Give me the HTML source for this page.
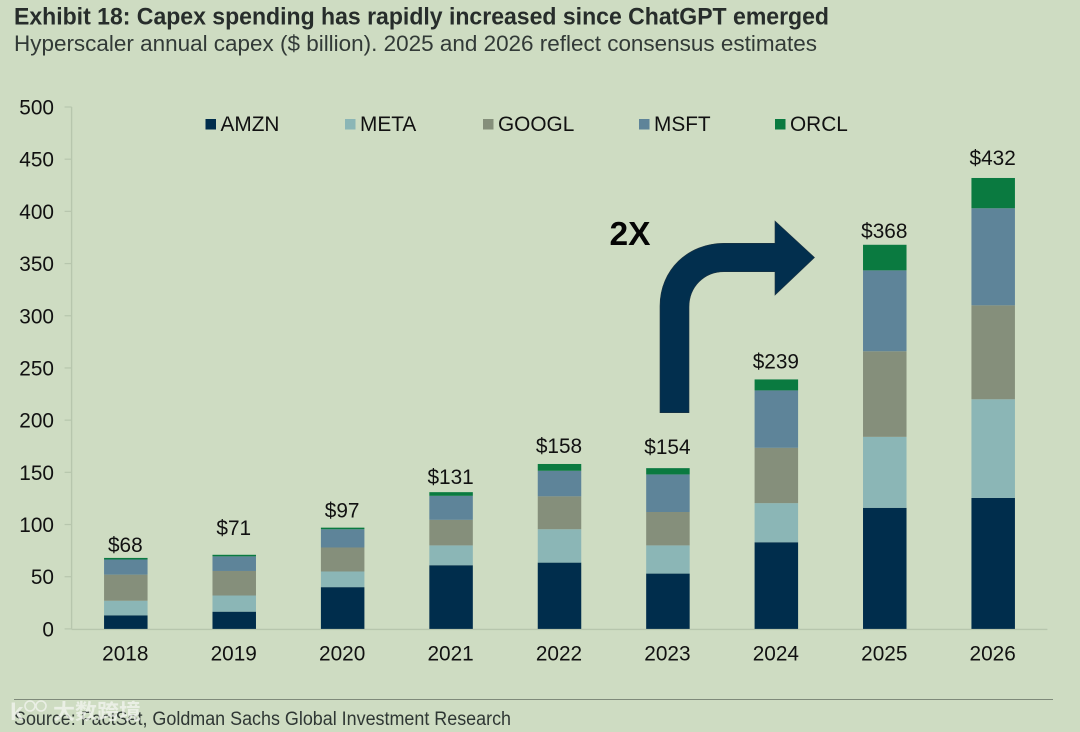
<!DOCTYPE html>
<html lang="en">
<head>
<meta charset="utf-8">
<title>Exhibit 18: Capex spending</title>
<style>
  html, body { margin: 0; padding: 0; background: #cedcc2; }
  svg { display: block; font-family: "Liberation Sans", "Noto Sans CJK SC", sans-serif; }
</style>
</head>
<body>
<svg id="chart" xmlns="http://www.w3.org/2000/svg" width="1080" height="732" viewBox="0 0 1080 732">
  <rect x="0" y="0" width="1080" height="732" fill="#cedcc2"/>
  <text x="14" y="24.5" font-size="24" font-weight="700" fill="#272d2b" textLength="815" lengthAdjust="spacingAndGlyphs">Exhibit 18: Capex spending has rapidly increased since ChatGPT emerged</text>
  <text x="14" y="51" font-size="22.5" fill="#323a37" textLength="803" lengthAdjust="spacingAndGlyphs">Hyperscaler annual capex ($ billion). 2025 and 2026 reflect consensus estimates</text>
  <g id="axes"></g>
  <g id="bars"></g>
  <g id="labels"></g>
  <g id="legend"></g>
  <text x="609.5" y="245" font-size="33.5" font-weight="700" fill="#050505">2X</text>
  <path d="M660 412.7 L660 306 C660 270 688 243.3 724 243.3 L775 243.3 L775 221 L814.5 257.5 L775 295 L775 271.7 L724 271.7 C704 271.7 689 287 689 307 L689 412.7 Z" fill="#022f4e" stroke="#1d3340" stroke-width="0.6"/>
  <line x1="14" y1="699.5" x2="1053" y2="699.5" stroke="#7f8a7a" stroke-width="1"/>
  <text x="14" y="725" font-size="19" fill="#2f3734" textLength="497" lengthAdjust="spacingAndGlyphs">Source: FactSet, Goldman Sachs Global Investment Research</text>
  <g opacity="0.8">
    <text x="10" y="720" font-size="24" font-weight="700" fill="#f1f4ee">k</text>
    <circle cx="30" cy="706" r="5" fill="none" stroke="#f1f4ee" stroke-width="1.6"/>
    <circle cx="41" cy="706" r="5" fill="none" stroke="#f1f4ee" stroke-width="1.6"/>
    <text x="53" y="719" font-size="21" font-weight="700" fill="#f1f4ee" textLength="88" lengthAdjust="spacingAndGlyphs">大数跨境</text>
  </g>
</svg>
<script>
const categories = ['2018', '2019', '2020', '2021', '2022', '2023', '2024', '2025', '2026'];
const seriesNames = ['AMZN', 'META', 'GOOGL', 'MSFT', 'ORCL'];
const amzn = [13, 16.5, 40, 61, 63.5, 53, 83, 116, 125.5];
const meta = [14, 15.5, 15, 19, 32, 27, 37.5, 68, 94.5];
const googl = [25, 23.5, 23, 24.5, 31.5, 32, 53, 82, 90];
const msft = [14.5, 14, 17.5, 23, 24.5, 36, 55, 77.5, 93];
const orcl = [1.5, 1.5, 1.5, 3.5, 6.5, 6, 10.5, 24.5, 29];
const totalLabels = ['$68', '$71', '$97', '$131', '$158', '$154', '$239', '$368', '$432'];
const yTicks = [0, 50, 100, 150, 200, 250, 300, 350, 400, 450, 500];

const seriesValues = [amzn, meta, googl, msft, orcl];
const seriesColors = ['#002d4c', '#8bb6b6', '#858f7b', '#5e8499', '#0a7a40'];
const legendSwatchX = [205.5, 345, 483, 639, 775];
const labelLift = [6, 20, 10, 8, 11, 14, 11, 7, 13];

const NS = 'http://www.w3.org/2000/svg';
const plotLeft = 71.6, plotRight = 1047.4, plotBottom = 628.9, plotTop = 107;
const barWidth = 43.5;
const labelFont = 20.8;
function yScale(v) {
  return plotBottom - (v / 500) * (plotBottom - plotTop);
}
function xCenter(i) {
  return plotLeft + (i + 0.5) * (plotRight - plotLeft) / categories.length;
}
function make(tag, attrs, parent, content) {
  const el = document.createElementNS(NS, tag);
  for (const k in attrs) el.setAttribute(k, attrs[k]);
  if (content !== undefined) el.textContent = content;
  parent.appendChild(el);
  return el;
}
const axes = document.getElementById('axes');
const bars = document.getElementById('bars');
const labels = document.getElementById('labels');
const legend = document.getElementById('legend');
const axisColor = '#b7c6ad';

const yAxis = make('line', { x1: plotLeft, y1: plotTop, x2: plotLeft, y2: plotBottom, stroke: axisColor, 'stroke-width': 1.4 }, axes);


const xAxis = make('line', { x1: plotLeft, y1: plotBottom + 0.5, x2: plotRight, y2: plotBottom + 0.5, stroke: axisColor, 'stroke-width': 1.4 }, axes);



yTicks.forEach(function (t) {
  const y = yScale(t);
  const tick = make('line', { x1: plotLeft - 7, y1: y, x2: plotLeft, y2: y, stroke: axisColor, 'stroke-width': 1.2 }, axes);
  
  
  const label = make('text', { x: 54, y: y + 7.5, 'font-size': labelFont, 'text-anchor': 'end', fill: '#111' }, axes, String(t));
  
  
});

categories.forEach(function (c, i) {
  const cx = xCenter(i);
  const label = make('text', { x: cx - 0.5, y: 660.5, 'font-size': labelFont, 'text-anchor': 'middle', fill: '#111' }, axes, c);
  
  
  let sum = 0;
  seriesValues.forEach(function (values, s) {
    const y0 = yScale(sum);
    sum += values[i];
    const y1 = yScale(sum);
    const bar = make('rect', { x: cx - barWidth / 2, y: y1, width: barWidth, height: y0 - y1, fill: seriesColors[s] }, bars);
    
    
  });
  const total = make('text', { x: cx - 0.5, y: yScale(sum) - labelLift[i], 'font-size': labelFont, 'text-anchor': 'middle', fill: '#111' }, labels, totalLabels[i]);
  
  
});

seriesNames.forEach(function (name, s) {
  const swatch = make('rect', { x: legendSwatchX[s], y: 119, width: 10.5, height: 10.5, fill: seriesColors[s] }, legend);
  
  
  const entry = make('text', { x: legendSwatchX[s] + 15, y: 131, 'font-size': labelFont, fill: '#111' }, legend, name);
  
  
});
</script>
</body>
</html>
